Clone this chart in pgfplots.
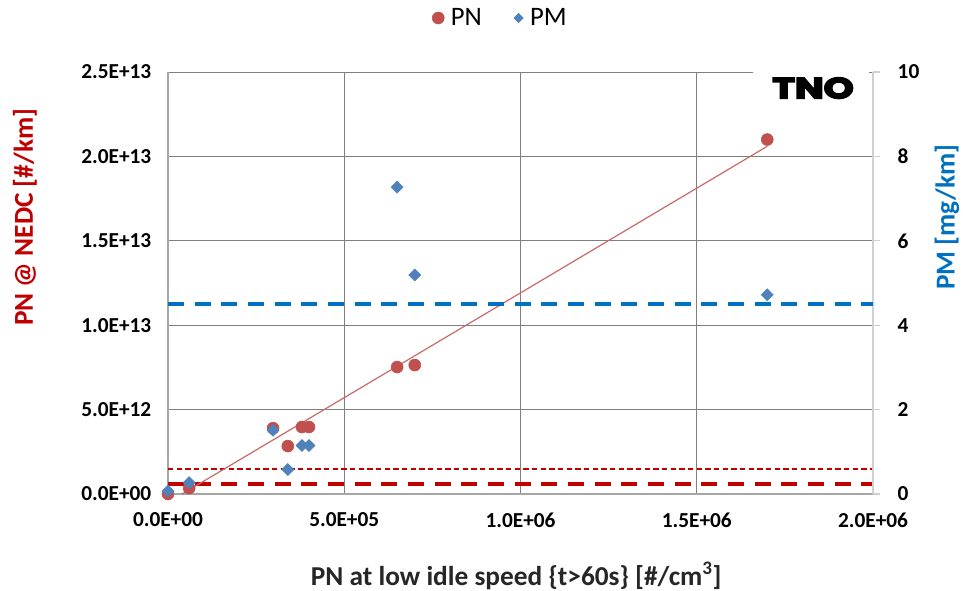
\documentclass[border=0pt]{standalone}
\usepackage{fontspec}
\setmainfont{Carlito}
\newfontfamily\tnofont{Poppins}
\usepackage{pgfplots}
\pgfplotsset{compat=1.18}
\definecolor{pnred}{HTML}{C0504D}
\definecolor{pmblue}{HTML}{4F81BD}
\definecolor{labred}{HTML}{C00000}
\definecolor{labblue}{HTML}{0070C0}
\definecolor{gridc}{HTML}{7F7F7F}
\definecolor{axc}{HTML}{A6A6A6}
\definecolor{raxc}{HTML}{D0D0D0}
\newcommand\heavy[1]{\special{pdf:literal direct 1.1 w 2 Tr}#1\special{pdf:literal direct 0 Tr}}
\begin{document}
\begin{tikzpicture}
\path[use as bounding box] (-126pt,-72pt) rectangle (596.25pt,370.5pt);
\begin{axis}[
  at={(0,0)}, anchor=south west, scale only axis,
  width=528.75pt, height=316.5pt,
  xmin=0, xmax=2e6, ymin=0, ymax=2.5e13,
  axis y line*=left, axis x line*=bottom,
  clip=false,
  xtick={0,5e5,1e6,1.5e6,2e6},
  xticklabels={0.0E+00,5.0E+05,1.0E+06,1.5E+06,2.0E+06},
  ytick={0,5e12,1e13,1.5e13,2e13,2.5e13},
  yticklabels={0.0E+00,5.0E+12,1.0E+13,1.5E+13,2.0E+13,2.5E+13},
  scaled x ticks=false, scaled y ticks=false,
  xmajorgrids, ymajorgrids,
  major grid style={gridc, line width=0.7pt},
  major tick length=0pt,
  axis line style={axc, line width=1pt},
  tick label style={font=\bfseries\fontsize{16}{16}\selectfont, black},
  xticklabel style={yshift=-10.5pt},
  yticklabel style={xshift=-9pt},
  xlabel={PN at low idle speed \{t>60s\} [\#/cm\textsuperscript{3}]},
  xlabel style={at={(axis description cs:0.494,-0.194)}, anchor=center,
    font=\bfseries\fontsize{20.5}{20.5}\selectfont, black!85},
  ylabel={PN @ NEDC [\#/km]},
  ylabel style={at={(axis description cs:-0.203,0.656)}, anchor=center, rotate=0,
    font=\bfseries\fontsize{20.5}{20.5}\selectfont, labred},
  legend columns=2,
  legend style={at={(axis description cs:0.472,1.128)}, anchor=center, draw=none,
    font=\fontsize{20}{20}\selectfont,
    /tikz/every odd column/.append style={column sep=3pt},
    /tikz/every even column/.append style={column sep=22pt}},
  legend cell align=left,
]
\addlegendimage{only marks, mark=*, mark size=4.5pt, pnred}
\addlegendentry{PN}
\addlegendimage{only marks, mark=square*, mark options={rotate=45}, mark size=2.5pt, pmblue}
\addlegendentry{PM}
\fill[white] (axis description cs:0.83,0.985) rectangle (axis description cs:0.995,1.015);
\node[font=\tnofont\bfseries\fontsize{22}{22}\selectfont, xscale=1.3, inner sep=0pt]
  at (axis description cs:0.915,0.962) {\heavy{TNO}};
\addplot[forget plot, labred, line width=3pt, dash pattern=on 12pt off 8pt]
  coordinates {(0,6e11) (2e6,6e11)};
\addplot[forget plot, labred, line width=1.3pt, dash pattern=on 4pt off 2.5pt]
  coordinates {(0,1.5e12) (2e6,1.5e12)};
\addplot[forget plot, pnred!85, line width=0.9pt]
  coordinates {(4e4,0) (1.7e6,2.06e13)};
\addplot[forget plot, only marks, mark=*, mark size=4.5pt, pnred]
  coordinates {
  (0,0) (6e4,3.5e11) (2.98e5,3.9e12) (3.4e5,2.84e12) (3.8e5,3.97e12)
  (4.0e5,3.97e12) (6.5e5,7.52e12) (7.0e5,7.64e12) (1.7e6,2.1e13)};
\end{axis}
\begin{axis}[
  at={(0,0)}, anchor=south west, scale only axis,
  width=528.75pt, height=316.5pt,
  xmin=0, xmax=2e6, ymin=0, ymax=10,
  axis y line*=right, axis x line=none,
  clip=false,
  ytick={0,2,4,6,8,10},
  yticklabels={0,2,4,6,8,10},
  tick align=outside, major tick length=5pt,
  tick style={raxc, line width=1pt},
  axis line style={raxc, line width=1pt},
  tick label style={font=\bfseries\fontsize{16}{16}\selectfont, black},
  yticklabel style={xshift=10pt},
  ylabel={PM [mg/km]},
  ylabel style={at={(axis description cs:1.105,0.656)}, anchor=center, rotate=0,
    font=\bfseries\fontsize{20.5}{20.5}\selectfont, labblue},
]
\addplot[labblue, line width=3pt, dash pattern=on 12pt off 8pt]
  coordinates {(0,4.5) (2e6,4.5)};
\addplot[only marks, mark=square*, mark options={rotate=45}, mark size=3.2pt, pmblue]
  coordinates {
  (0,0.07) (6e4,0.27) (2.98e5,1.51) (3.4e5,0.58) (3.8e5,1.15)
  (4.0e5,1.15) (6.5e5,7.27) (7.0e5,5.19) (1.7e6,4.72)};
\end{axis}
\end{tikzpicture}
\end{document}
